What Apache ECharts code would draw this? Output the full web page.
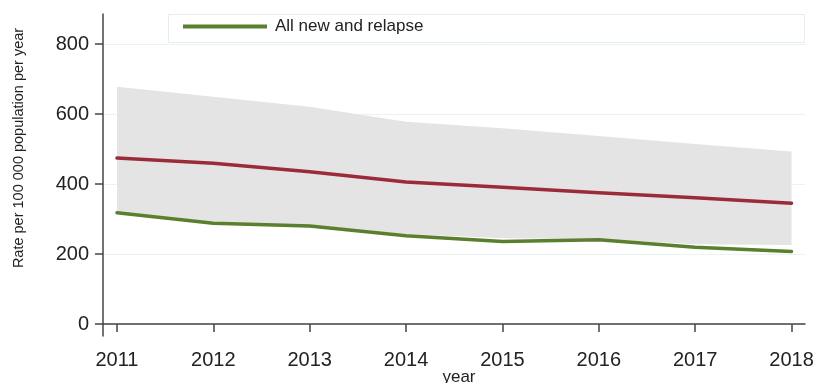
<!DOCTYPE html>
<html>
<head>
<meta charset="utf-8">
<script src="https://cdn.jsdelivr.net/npm/echarts@6/dist/echarts.min.js"></script>
<style>
  html, body { margin: 0; padding: 0; background: #fff; }
  #chart { width: 817px; height: 383px; }
</style>
</head>
<body>
<div id="chart"></div>
<script>
// Notification rate per 100 000 population per year
const years = [2011, 2012, 2013, 2014, 2015, 2016, 2017, 2018];
const allNewRelapse = [318, 288, 280, 252, 236, 241, 219, 207];
const estimatedIncidence = [474, 459, 435, 406, 391, 375, 361, 345];
const incidenceLow = [318, 292, 283, 257, 245, 243, 228, 226];
const incidenceHigh = [678, 649, 621, 578, 559, 537, 514, 493];
const yTicks = [0, 200, 400, 600, 800];

const pairs = vals => years.map((y, i) => [y, vals[i]]);
const bandRows = years.map((y, i) => [y, incidenceLow[i], incidenceHigh[i]]);

const font = '"Liberation Sans", Arial, sans-serif';
const green = '#5a7f2f';
const red = '#9b2b39';

// Uncertainty band drawn as one polygon: upper edge left to right, lower edge back
function renderBand(params, api) {
  if (params.dataIndex !== 0) return null;
  const upper = [], lower = [];
  for (let i = 0; i < bandRows.length; i++) {
    upper.push(api.coord([bandRows[i][0], bandRows[i][2]]));
    lower.unshift(api.coord([bandRows[i][0], bandRows[i][1]]));
  }
  return {
    type: 'polygon',
    shape: { points: upper.concat(lower) },
    style: { fill: '#e4e4e4' },
    silent: true
  };
}

const chart = echarts.init(document.getElementById('chart'), null, { renderer: 'canvas' });
chart.setOption({
  animation: false,
  backgroundColor: '#fff',
  grid: { left: 103, right: 12, top: 14, bottom: 47, containLabel: false, outerBoundsMode: 'none' },
  xAxis: {
    type: 'value',
    min: 2010.855,
    max: 2018.14,
    name: 'year',
    nameLocation: 'middle',
    nameGap: 33,
    nameMoveOverlap: false,
    nameTextStyle: { fontFamily: font, fontSize: 17, color: '#222', padding: [0, 0, 0, 10] },
    axisLine: { show: true, lineStyle: { color: '#444', width: 1.5 } },
    axisTick: { show: true, customValues: years, length: 8, inside: false, lineStyle: { color: '#444', width: 1.5 } },
    axisLabel: { customValues: years, margin: 14, fontFamily: font, fontSize: 20, color: '#222', formatter: v => String(v) },
    splitLine: { show: false }
  },
  yAxis: {
    type: 'value',
    min: -34.3,
    max: 885.7,
    axisLine: { show: true, lineStyle: { color: '#444', width: 1.5 } },
    axisTick: { show: true, customValues: yTicks, length: 8, lineStyle: { color: '#444', width: 1.5 } },
    axisLabel: { customValues: yTicks, margin: 14, fontFamily: font, fontSize: 20, color: '#222' },
    splitLine: { show: true, lineStyle: { color: '#eaf2f4', width: 1.2 } }
  },
  legend: {
    show: true,
    data: ['All new and relapse'],
    left: 178,
    top: 13,
    icon: 'rect',
    itemWidth: 84,
    itemHeight: 4,
    itemGap: 0,
    textStyle: { fontFamily: font, fontSize: 17, color: '#222', padding: [0, 0, 0, 3] }
  },
  graphic: [
    {
      type: 'rect',
      shape: { x: 168.5, y: 14.5, width: 636, height: 28 },
      style: { fill: 'none', stroke: '#e3eeee', lineWidth: 1 },
      z: 0
    },
    {
      type: 'text',
      x: 19,
      y: 148,
      rotation: Math.PI / 2,
      style: {
        text: 'Rate per 100 000 population per year',
        fontFamily: font,
        fontSize: 14.5,
        fill: '#222',
        align: 'center',
        verticalAlign: 'middle'
      }
    }
  ],
  series: [
    {
      name: 'Uncertainty interval',
      type: 'custom',
      renderItem: renderBand,
      data: bandRows,
      encode: { x: 0, y: [1, 2] },
      silent: true,
      z: 1
    },
    {
      name: 'Estimated incidence',
      type: 'line',
      data: pairs(estimatedIncidence),
      symbol: 'none',
      lineStyle: { color: red, width: 3.5, cap: 'round', join: 'round' },
      itemStyle: { color: red },
      z: 3
    },
    {
      name: 'All new and relapse',
      type: 'line',
      data: pairs(allNewRelapse),
      symbol: 'none',
      lineStyle: { color: green, width: 3.5, cap: 'round', join: 'round' },
      itemStyle: { color: green },
      z: 3
    }
  ]
});
</script>
</body>
</html>
